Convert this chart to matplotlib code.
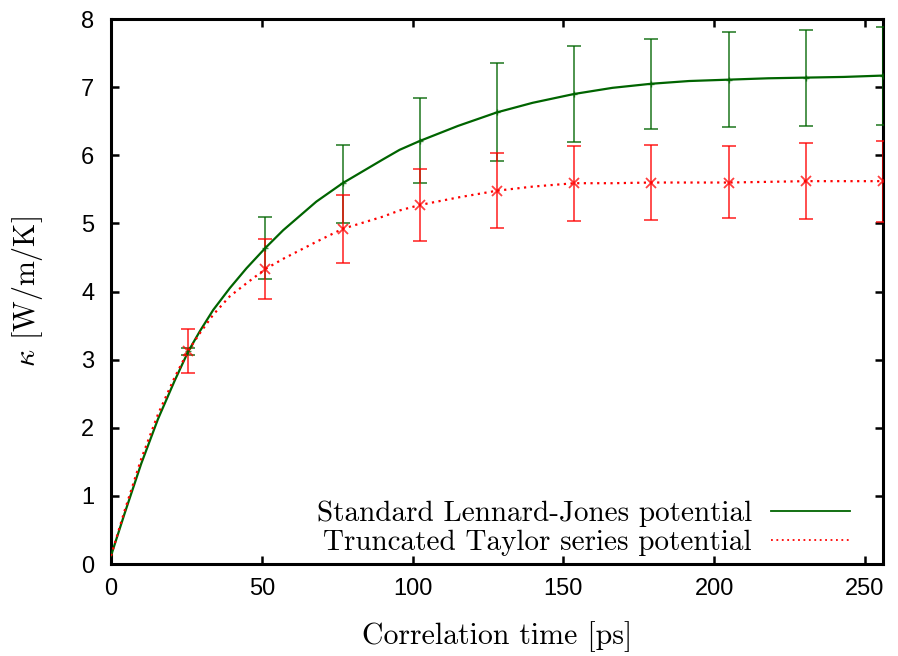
import numpy as np
import matplotlib
matplotlib.use("Agg")
import matplotlib.pyplot as plt
from matplotlib.lines import Line2D

# ---- data ----
# error-bar points (correlation time, ps)
t_pts = [25.6, 51.2, 76.8, 102.4, 128.0, 153.6, 179.2, 204.8, 230.4, 256.0]
lj_pts = [3.12, 4.64, 5.59, 6.21, 6.63, 6.90, 7.05, 7.11, 7.14, 7.17]
lj_lo = [3.07, 4.18, 5.00, 5.59, 5.92, 6.20, 6.38, 6.42, 6.43, 6.45]
lj_hi = [3.17, 5.10, 6.15, 6.84, 7.35, 7.60, 7.71, 7.81, 7.84, 7.88]
tt_pts = [3.13, 4.33, 4.92, 5.27, 5.48, 5.59, 5.60, 5.60, 5.62, 5.62]
tt_lo = [2.81, 3.89, 4.42, 4.74, 4.93, 5.03, 5.05, 5.08, 5.06, 5.02]
tt_hi = [3.45, 4.77, 5.41, 5.80, 6.03, 6.14, 6.15, 6.13, 6.18, 6.21]

# running curves
t_curve = [0.0, 4.5, 10.0, 15.6, 21.1, 25.6, 29.5, 33.9, 39.4, 44.9, 51.2, 57.1,
           68.1, 76.8, 90.2, 95.7, 102.4, 115.0, 128.0, 139.8, 153.6, 166.3,
           179.2, 191.7, 204.8, 217.9, 230.4, 243.0, 256.0]
lj_curve = [0.12, 0.74, 1.47, 2.13, 2.69, 3.12, 3.42, 3.73, 4.05, 4.34, 4.64, 4.90,
            5.32, 5.59, 5.94, 6.08, 6.21, 6.43, 6.63, 6.77, 6.90, 6.99,
            7.05, 7.09, 7.11, 7.13, 7.14, 7.15, 7.17]
tt_curve = [0.12, 0.78, 1.54, 2.20, 2.74, 3.13, 3.39, 3.66, 3.93, 4.12, 4.33, 4.48,
            4.73, 4.92, 5.10, 5.19, 5.27, 5.38, 5.48, 5.54, 5.59, 5.59,
            5.60, 5.60, 5.60, 5.61, 5.62, 5.62, 5.62]

x_ticks = [0, 50, 100, 150, 200, 250]
y_ticks = [0, 1, 2, 3, 4, 5, 6, 7, 8]

labels = ["Standard Lennard-Jones potential", "Truncated Taylor series potential"]

green = "#006400"
red = "#ff0000"

plt.rcParams["mathtext.fontset"] = "cm"
plt.rcParams["font.family"] = ["Liberation Sans", "DejaVu Sans"]

fig = plt.figure(figsize=(8.98, 6.56), dpi=100)
ax = fig.add_axes([0.1236, 0.1402, 0.8597, 0.8308])

t = np.array(t_pts)
lj = np.array(lj_pts)
tt = np.array(tt_pts)

ax.errorbar(t, lj, yerr=[lj - np.array(lj_lo), np.array(lj_hi) - lj],
            fmt="+", color=green, ecolor=green, elinewidth=1.3, capsize=5,
            capthick=1.3, markersize=5, alpha=0.75, zorder=3)
ax.errorbar(t, tt, yerr=[tt - np.array(tt_lo), np.array(tt_hi) - tt],
            fmt="x", color=red, ecolor=red, elinewidth=1.3, capsize=5,
            capthick=1.3, markersize=6.5, markeredgewidth=1.3, alpha=0.75, zorder=3)

ax.plot(t_curve, lj_curve, color=green, lw=1.6, zorder=4)
ax.plot(t_curve, tt_curve, color=red, lw=1.6, linestyle=(0, (1, 2)), zorder=4)

ax.set_xlim(0, 256)
ax.set_ylim(0, 8)
ax.set_xticks(x_ticks)
ax.set_yticks(y_ticks)

for s in ax.spines.values():
    s.set_linewidth(2.2)
ax.tick_params(direction="in", length=6, width=1.8, top=True, right=True,
               labelsize=17)
ax.tick_params(axis="x", pad=10)
ax.tick_params(axis="y", pad=12)

serif = ["cmr10", "DejaVu Serif"]
ax.set_xlabel("Correlation time [ps]", fontsize=21.5, family=serif, labelpad=15)
ax.set_ylabel(r"$\kappa$ [W/m/K]", fontsize=21.5, family=serif, labelpad=26)

handles = [Line2D([], [], color=green, lw=1.3),
           Line2D([], [], color=red, lw=1.3, linestyle=(0, (1, 2)))]
ax.legend(handles, labels, loc="lower right", bbox_to_anchor=(0.957, 0.015),
          markerfirst=False, frameon=False,
          prop={"family": serif, "size": 21},
          handlelength=2.7, handletextpad=0.65,
          labelspacing=0.08, borderaxespad=0, borderpad=0)

fig.savefig("out.png", dpi=100)
